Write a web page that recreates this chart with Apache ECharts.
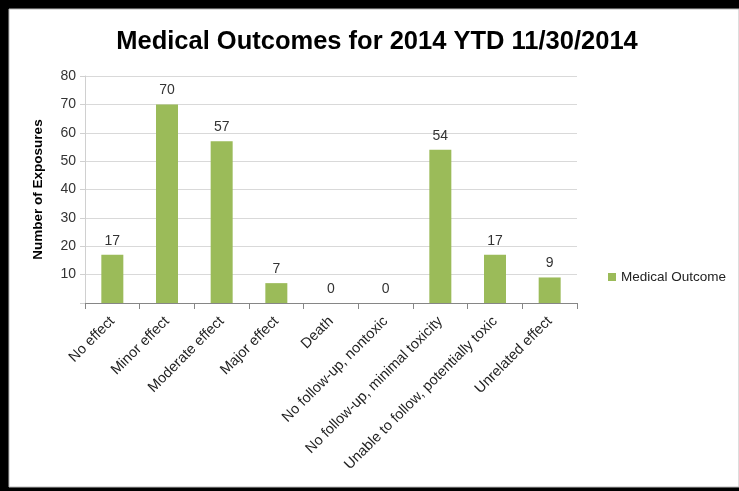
<!DOCTYPE html>
<html>
<head>
<meta charset="utf-8">
<title>Medical Outcomes</title>
<script src="https://cdn.jsdelivr.net/npm/echarts@6/dist/echarts.min.js"></script>
<style>
  html, body {margin: 0; padding: 0; background: #fff;}
  #main {width: 739px; height: 491px;}
</style>
</head>
<body>
<div id="main"></div>
<script>
// data
var categories = ['No effect', 'Minor effect', 'Moderate effect', 'Major effect', 'Death',
  'No follow-up, nontoxic', 'No follow-up, minimal toxicity',
  'Unable to follow, potentially toxic', 'Unrelated effect'];
var outcomeValues = [17, 70, 57, 7, 0, 0, 54, 17, 9];
var seriesName = 'Medical Outcome';
var yTicks = [0, 10, 20, 30, 40, 50, 60, 70, 80];

var chart = echarts.init(document.getElementById('main'));

chart.setOption({
  backgroundColor: '#fff',
  animation: false,
  title: {
    text: 'Medical Outcomes for 2014 YTD 11/30/2014',
    left: 372,
    textAlign: 'center',
    top: 24,
    textStyle: {fontFamily: 'Liberation Sans', fontSize: 25.5, fontWeight: 'bold', color: '#000'}
  },
  legend: {
    data: [seriesName],
    left: 603,
    top: 265,
    itemWidth: 8,
    itemHeight: 8,
    itemGap: 4,
    icon: 'rect',
    textStyle: {fontFamily: 'Liberation Sans', fontSize: 13.5, color: '#222'}
  },
  grid: {left: 85, right: 162, top: 76, bottom: 188},
  xAxis: {
    type: 'category',
    data: categories,
    axisLine: {lineStyle: {color: '#868686'}},
    axisTick: {show: true, length: 6, lineStyle: {color: '#868686'}},
    axisLabel: {rotate: 45, interval: 0, margin: 16, fontFamily: 'Liberation Sans', fontSize: 14.5, color: '#222'}
  },
  yAxis: {
    type: 'value',
    min: yTicks[0],
    max: yTicks[yTicks.length - 1],
    interval: 10,
    name: 'Number of Exposures',
    nameLocation: 'middle',
    nameGap: 40,
    nameTextStyle: {fontFamily: 'Liberation Sans', fontSize: 13.5, fontWeight: 'bold', color: '#000'},
    axisLine: {show: true, lineStyle: {color: '#d0d0d0'}},
    axisTick: {show: true, length: 5, lineStyle: {color: '#d0d0d0'}},
    splitLine: {lineStyle: {color: '#d9d9d9'}},
    axisLabel: {
      fontFamily: 'Liberation Sans', fontSize: 14, color: '#333', margin: 9,
      formatter: function (v) { return v === 0 ? '' : v; }
    }
  },
  series: [{
    name: seriesName,
    type: 'bar',
    data: outcomeValues,
    barWidth: 22,
    itemStyle: {color: '#9BBB59'},
    label: {show: true, position: 'top', distance: 7, fontFamily: 'Liberation Sans', fontSize: 14, color: '#333'}
  }],
  graphic: [
    // the black frame round the picture
    {type: 'rect', shape: {x: 0, y: 0, width: 739, height: 9}, style: {fill: '#000'}},
    {type: 'rect', shape: {x: 0, y: 0, width: 9, height: 491}, style: {fill: '#000'}},
    {type: 'rect', shape: {x: 0, y: 487, width: 739, height: 4}, style: {fill: '#000'}},
    {type: 'rect', shape: {x: 9, y: 9, width: 730, height: 478}, style: {fill: 'none', stroke: '#bbb', lineWidth: 1}}
  ]
});
</script>
</body>
</html>
